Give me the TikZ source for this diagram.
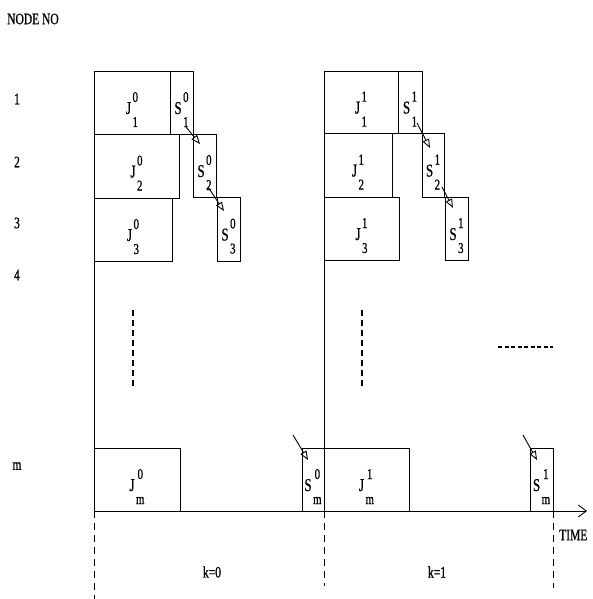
\documentclass[tikz,border=0pt]{standalone}
\usepackage{fontspec}
\setmainfont{Liberation Serif}[FakeStretch=0.72, FakeBold=0.8]
\usepackage{tikz}
\usetikzlibrary{
    arrows.meta,
    fit
}
% 方框内的记号：主字母 + 上标（周期）+ 下标（节点）
\newcommand{\blab}[3]{#1\hspace{1.5pt}\raisebox{-13pt}{\fontsize{15}{15}\selectfont\begin{tabular}[b]{@{}c@{}}#2\\[10pt]#3\end{tabular}}}
\tikzset{
    tbox/.style={
        rectangle, draw=black, line width=0.9pt, inner sep=0pt, outer sep=0pt
    },
    blabel/.style={font=\fontsize{18}{18}\selectfont, inner sep=0pt, anchor=base, yshift=-11.5pt},
    tlabel/.style={font=\fontsize{16}{16}\selectfont, inner sep=1pt},
    tline/.style={line width=0.9pt},
    tarr/.style={-{Triangle[open, length=9pt, width=7pt]}, line width=0.9pt},
    taxis/.style={-{Straight Barb[length=8pt, width=12pt]}, line width=0.9pt},
    tdash/.style={line width=0.8pt, dash pattern=on 7pt off 5pt},
    tdots/.style={line width=1.6pt, dash pattern=on 6pt off 4pt},
}

\begin{document}
\begin{tikzpicture}[x=1pt, y=-1pt]
    \useasboundingbox (0,0) rectangle (592,599);

    % ── 纵轴标注 ────────────────────────────────────────
    \node [tlabel, anchor=west] (nodeno) at (6,19) {NODE NO};
    \node [tlabel] (r1) at (17,99) {1};
    \node [tlabel] (r2) at (17,162) {2};
    \node [tlabel] (r3) at (17,223) {3};
    \node [tlabel] (r4) at (17,275) {4};
    \node [tlabel] (rm) at (17,466) {m};

    % ── 周期 k=0 ────────────────────────────────────────
    \node [tbox, fit={(94,71) (170,134)}]  (j01) {};
    \node [tbox, fit={(170,71) (193,134)}] (s01) {};
    \node [tbox, fit={(94,134) (179,198)}] (j02) {};
    \node [tbox, fit={(193,134) (216,197)}] (s02) {};
    \node [tbox, fit={(94,198) (172,261)}] (j03) {};
    \node [tbox, fit={(217,197) (240,261)}] (s03) {};
    \node [tbox, fit={(94,448) (180,511)}] (j0m) {};
    \node [tbox, fit={(302,448) (324,511)}] (s0m) {};

    \node [blabel] (lj01) at (j01.center) {\blab{J}{0}{1}};
    \node [blabel] (ls01) at (s01.center) {\blab{S}{0}{1}};
    \node [blabel] (lj02) at (j02.center) {\blab{J}{0}{2}};
    \node [blabel] (ls02) at (s02.center) {\blab{S}{0}{2}};
    \node [blabel] (lj03) at (j03.center) {\blab{J}{0}{3}};
    \node [blabel] (ls03) at (s03.center) {\blab{S}{0}{3}};
    \node [blabel] (lj0m) at (j0m.center) {\blab{J}{0}{m}};
    \node [blabel] (ls0m) at (s0m.center) {\blab{S}{0}{m}};

    % ── 周期 k=1 ────────────────────────────────────────
    \node [tbox, fit={(324,71) (398,133)}]  (j11) {};
    \node [tbox, fit={(398,71) (422,133)}]  (s11) {};
    \node [tbox, fit={(324,133) (392,197)}] (j12) {};
    \node [tbox, fit={(422,133) (444,197)}] (s12) {};
    \node [tbox, fit={(324,197) (399,260)}] (j13) {};
    \node [tbox, fit={(445,197) (468,260)}] (s13) {};
    \node [tbox, fit={(324,448) (409,511)}] (j1m) {};
    \node [tbox, fit={(530,448) (553,511)}] (s1m) {};

    \node [blabel] (lj11) at (j11.center) {\blab{J}{1}{1}};
    \node [blabel] (ls11) at (s11.center) {\blab{S}{1}{1}};
    \node [blabel] (lj12) at (j12.center) {\blab{J}{1}{2}};
    \node [blabel] (ls12) at (s12.center) {\blab{S}{1}{2}};
    \node [blabel] (lj13) at (j13.center) {\blab{J}{1}{3}};
    \node [blabel] (ls13) at (s13.center) {\blab{S}{1}{3}};
    \node [blabel] (lj1m) at (j1m.center) {\blab{J}{1}{m}};
    \node [blabel] (ls1m) at (s1m.center) {\blab{S}{1}{m}};

    % ── 时间轴 ──────────────────────────────────────────
    \coordinate (o0) at (94,511);
    \coordinate (o1) at (324,511);
    \coordinate (o2) at (553,511);
    \coordinate (tend) at (587,511);
    \draw [taxis] (o0) -- (tend);
    \draw [tline] (j01.north west) -- (o0);
    \draw [tline] (j11.north west) -- (o1);
    \node [tlabel, anchor=west] (time) at (558,535) {TIME};

    % ── 周期分界（虚线）──────────────────────────────────
    \coordinate (e0) at (94,599);
    \coordinate (e1) at (324,586);
    \coordinate (e2) at (553,588);
    \draw [tdash] (o0) -- (e0);
    \draw [tdash] (o1) -- (e1);
    \draw [tdash] (o2) -- (e2);
    \node [tlabel] (k0) at (212,572) {k=0};
    \node [tlabel] (k1) at (437,572) {k=1};

    % ── 省略号 ──────────────────────────────────────────
    \draw [tdots] (133,310) -- (133,386);
    \draw [tdots] (362,310) -- (362,386);
    \draw [tdots, dash pattern=on 4pt off 2.5pt] (498,347) -- (553,347);

    % ── 箭头 ────────────────────────────────────────────
    \draw [tarr] ([xshift=-7pt, yshift=7pt]s01.south east) -- ([xshift=7pt, yshift=-10pt]s02.north west);
    \draw [tarr] ([xshift=-8pt, yshift=10pt]s02.south east) -- ([xshift=7pt, yshift=-14pt]s03.north west);
    \draw [tarr] ([xshift=-9pt, yshift=13pt]s0m.north west) -- ([xshift=6pt, yshift=-12pt]s0m.north west);
    \draw [tarr] ([xshift=-5pt, yshift=10pt]s11.south east) -- ([xshift=8pt, yshift=-15pt]s12.north west);
    \draw [tarr] ([xshift=-2pt, yshift=10pt]s12.south east) -- ([xshift=8pt, yshift=-11pt]s13.north west);
    \draw [tarr] ([xshift=-7pt, yshift=13pt]s1m.north west) -- ([xshift=7pt, yshift=-12pt]s1m.north west);

\end{tikzpicture}
\end{document}
